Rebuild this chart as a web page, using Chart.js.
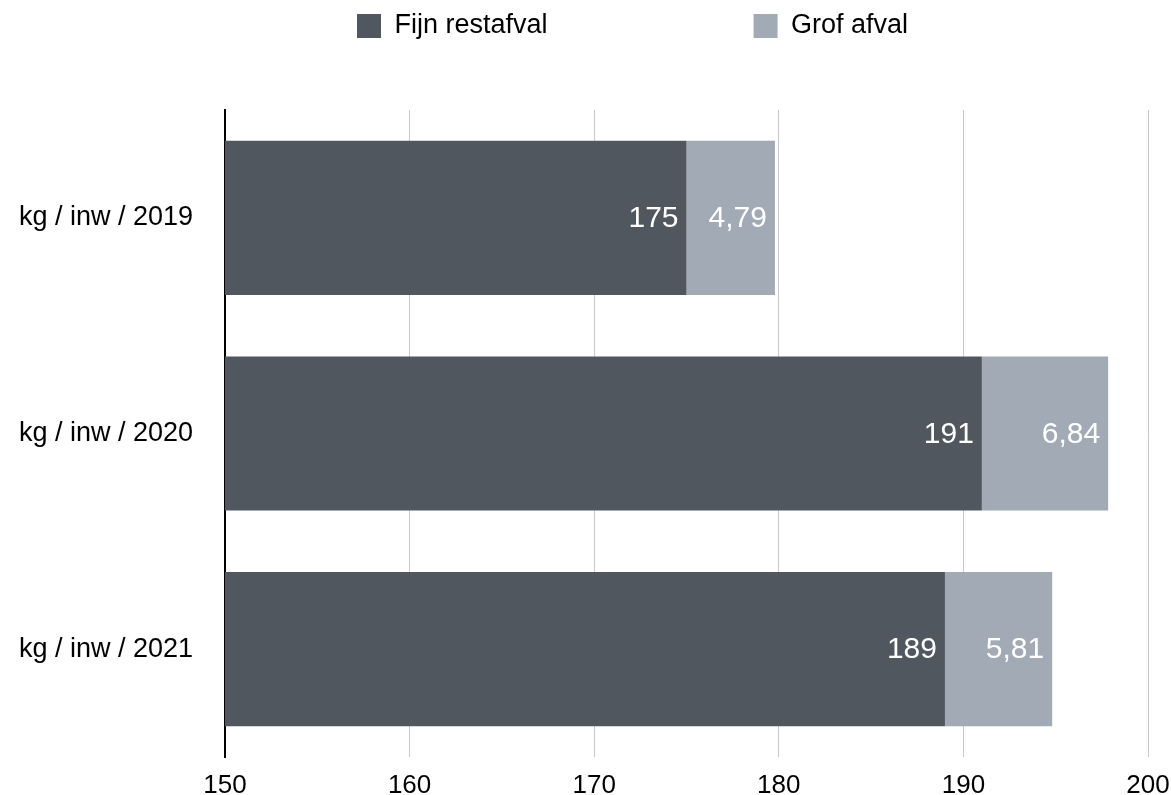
<!DOCTYPE html>
<html>
<head>
<meta charset="utf-8">
<title>Fijn restafval en grof afval per inwoner</title>
<script src="https://cdn.jsdelivr.net/npm/chart.js@4/dist/chart.umd.min.js"></script>
<style>
  html, body { margin: 0; padding: 0; background: #ffffff; }
  #wrap { width: 1171px; height: 795px; }
</style>
</head>
<body>
<div id="wrap"><canvas id="chart"></canvas></div>
<script>
const categories = ['kg / inw / 2019', 'kg / inw / 2020', 'kg / inw / 2021']
const fijnRestafval = [175, 191, 189]
const grofAfval = [4.79, 6.84, 5.81]
const seriesNames = ['Fijn restafval', 'Grof afval']
const xTicks = [150, 160, 170, 180, 190, 200]

const FONT = '"Liberation Sans", Arial, Helvetica, sans-serif'
Chart.defaults.font.family = FONT
Chart.defaults.color = '#000000'

// value labels at the inner right end of every bar
const barValueLabels = {
  id: 'barValueLabels',
  afterDatasetsDraw: (chart) => {
    const { ctx } = chart
    ctx.save()
    ctx.font = '30px ' + FONT
    ctx.fillStyle = '#ffffff'
    ctx.textAlign = 'right'
    ctx.textBaseline = 'middle'
    chart.data.datasets.forEach((ds, i) => {
      chart.getDatasetMeta(i).data.forEach((bar, j) => {
        const text = String(ds.data[j]).replace('.', ',')
        ctx.fillText(text, bar.x - 8, bar.y + 1)
      })
    })
    ctx.restore()
  },
}

// labels.padding is meant as the gap between the two legend items only,
// so put the row back at the top and leave room above the bars
const legendPlacement = {
  id: 'legendPlacement',
  beforeInit: (chart) => {
    const fit = chart.legend.fit
    chart.legend.fit = function () {
      fit.call(this)
      this.height = 110
    }
  },
  afterLayout: (chart) => {
    const legend = chart.legend
    const gap = legend.options.labels.padding
    legend.left = 357 - gap
    legend.top = 12.5 - gap
  },
}

new Chart(document.getElementById('chart'), {
  type: 'bar',
  data: {
    labels: categories,
    datasets: [
      { label: seriesNames[0], data: fijnRestafval, backgroundColor: '#51575f' },
      { label: seriesNames[1], data: grofAfval, backgroundColor: '#a1aab5' },
    ],
  },
  options: {
    indexAxis: 'y',
    animation: false,
    responsive: true,
    maintainAspectRatio: false,
    layout: { padding: { left: 0, right: 23, top: 0, bottom: 0 } },
    datasets: { bar: { barPercentage: 0.715, categoryPercentage: 1 } },
    plugins: {
      tooltip: { enabled: false },
      legend: {
        position: 'top',
        align: 'start',
        labels: {
          boxWidth: 24,
          boxHeight: 24,
          padding: 206,
          color: '#000000',
          font: { size: 27 },
        },
      },
    },
    scales: {
      x: {
        stacked: true,
        min: 150,
        max: 200,
        afterBuildTicks: (scale) => {
          scale.ticks = xTicks.map((v) => ({ value: v }))
        },
        afterFit: (scale) => {
          scale.height = 38
          scale.paddingLeft = 0
          scale.paddingRight = 0
        },
        border: { display: false },
        grid: { color: '#c8c8c8', lineWidth: 1, drawTicks: false },
        ticks: { padding: 13, color: '#000000', font: { size: 26 } },
      },
      y: {
        stacked: true,
        afterFit: (scale) => {
          scale.width = 225
          scale.paddingTop = 0
          scale.paddingBottom = 0
        },
        border: { display: true, color: '#000000', width: 2 },
        grid: { display: false, drawTicks: false },
        ticks: { padding: 32, color: '#000000', font: { size: 27 } },
      },
    },
  },
  plugins: [barValueLabels, legendPlacement],
})
</script>
</body>
</html>
